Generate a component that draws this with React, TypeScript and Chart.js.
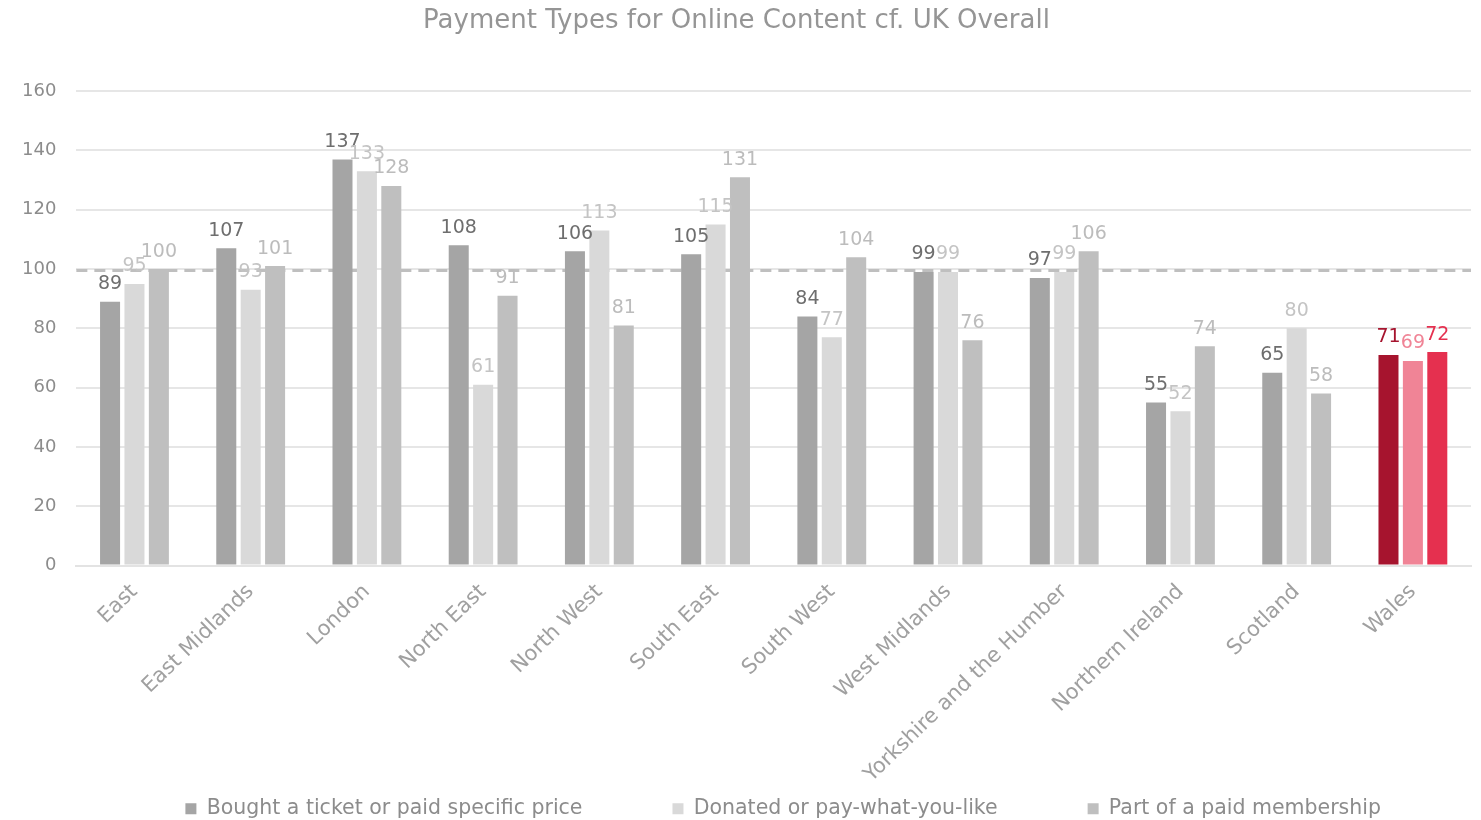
import React, { useEffect, useRef } from "react";
import { Chart, registerables } from "chart.js";

Chart.register(...registerables);

const categories = [
  "East",
  "East Midlands",
  "London",
  "North East",
  "North West",
  "South East",
  "South West",
  "West Midlands",
  "Yorkshire and the Humber",
  "Northern Ireland",
  "Scotland",
  "Wales",
];

const boughtTicket = [89, 107, 137, 108, 106, 105, 84, 99, 97, 55, 65, 71];
const donated = [95, 93, 133, 61, 113, 115, 77, 99, 99, 52, 80, 69];
const membership = [100, 101, 128, 91, 81, 131, 104, 76, 106, 74, 58, 72];

const seriesNames = [
  "Bought a ticket or paid specific price",
  "Donated or pay-what-you-like",
  "Part of a paid membership",
];

const ukOverall = 99.5;
const yTicks = [0, 20, 40, 60, 80, 100, 120, 140, 160];

const FONT = "'DejaVu Sans', sans-serif";
const baseColors = ["#a5a5a5", "#d9d9d9", "#bfbfbf"];
const highlightColors = ["#a6142e", "#f08496", "#e5304f"];
const labelColors = ["#6e6e6e", "#c4c4c4", "#bcbcbc"];
const HIGHLIGHT = "Wales";

function colorsFor(i: number, palette: string[], base: string[]) {
  return categories.map((c) => (c === HIGHLIGHT ? palette[i] : base[i]));
}

const refLinePlugin = {
  id: "refLine",
  beforeDraw(chart: any) {
    // let rotated category labels extend past the axis box (down towards the legend)
    if (chart.scales.x) chart.scales.x._computeLabelArea = () => undefined;
  },
  beforeDatasetsDraw(chart: any) {
    const { ctx, chartArea, scales } = chart;
    const y = scales.y.getPixelForValue(ukOverall);
    ctx.save();
    ctx.strokeStyle = "#bfbfbf";
    ctx.lineWidth = 3;
    ctx.setLineDash([11, 7]);
    ctx.beginPath();
    ctx.moveTo(chartArea.left, y);
    ctx.lineTo(chartArea.right, y);
    ctx.stroke();
    ctx.restore();
  },
};

const valueLabelPlugin = {
  id: "valueLabels",
  afterDatasetsDraw(chart: any) {
    const { ctx } = chart;
    ctx.save();
    ctx.font = `19px ${FONT}`;
    ctx.textAlign = "center";
    ctx.textBaseline = "bottom";
    chart.data.datasets.forEach((ds: any, di: number) => {
      const meta = chart.getDatasetMeta(di);
      const cols = colorsFor(di, highlightColors, labelColors);
      meta.data.forEach((el: any, i: number) => {
        ctx.fillStyle = cols[i];
        ctx.fillText(String(ds.data[i]), el.x, el.y - 8);
      });
    });
    ctx.restore();
  },
};

export default function App() {
  const ref = useRef<HTMLCanvasElement | null>(null);

  useEffect(() => {
    if (!ref.current) return;
    const seriesData = [boughtTicket, donated, membership];
    const chart = new Chart(ref.current, {
      type: "bar",
      data: {
        labels: categories,
        datasets: seriesData.map((d, i) => ({
          label: seriesNames[i],
          data: d,
          backgroundColor: colorsFor(i, highlightColors, baseColors),
          borderWidth: 0,
          barPercentage: 0.82,
          categoryPercentage: 0.63,
        })),
      },
      options: {
        responsive: false,
        animation: false,
        maintainAspectRatio: false,
        layout: { padding: { left: 2, right: 10, top: 6, bottom: -9 } },
        plugins: {
          title: {
            display: true,
            text: "Payment Types for Online Content cf. UK Overall",
            color: "#959595",
            font: { family: FONT, size: 26, weight: "normal" },
            padding: { top: 0, bottom: 54 },
          },
          legend: {
            position: "bottom",
            align: "end",
            labels: {
              color: "#8c8c8c",
              font: { family: FONT, size: 20.5 },
              boxWidth: 11,
              boxHeight: 11,
              padding: 90,
            },
          },
          tooltip: { enabled: false },
        },
        scales: {
          x: {
            grid: { display: false },
            border: { color: "#e3e3e3", width: 2 },
            afterFit: (axis: any) => {
              axis.height = 143;
            },
            ticks: {
              color: "#a0a0a0",
              font: { family: FONT, size: 21 },
              minRotation: 44,
              maxRotation: 44,
              padding: 6,
            },
          },
          y: {
            min: 0,
            max: 160,
            afterBuildTicks: (axis: any) => {
              axis.ticks = yTicks.map((v) => ({ value: v }));
            },
            grid: { color: "#e6e6e6", lineWidth: 2, drawTicks: false },
            border: { display: false },
            ticks: {
              color: "#8c8c8c",
              font: { family: FONT, size: 18 },
              padding: 20,
            },
          },
        },
      },
      plugins: [refLinePlugin, valueLabelPlugin],
    });
    return () => chart.destroy();
  }, []);

  return (
    <div style={{ position: "fixed", left: 0, top: 0, width: 1481, height: 820, background: "#fff" }}>
      <canvas ref={ref} width={1481} height={820} style={{ width: 1481, height: 820 }} />
    </div>
  );
}
